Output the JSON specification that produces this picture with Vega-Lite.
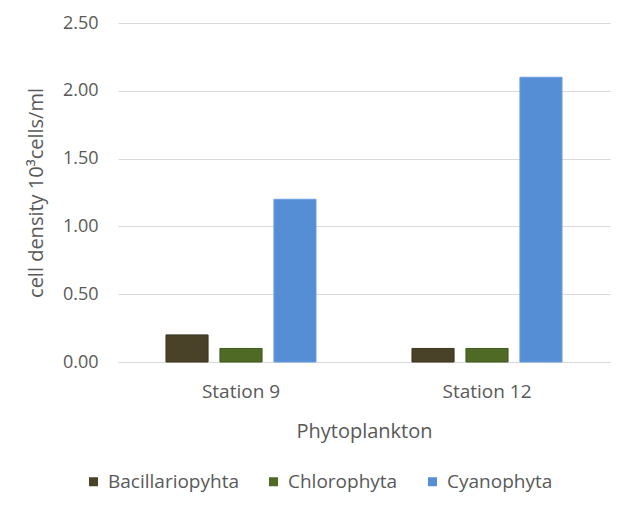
{
  "$schema": "https://vega.github.io/schema/vega-lite/v6.json",
  "width": 492,
  "height": 339,
  "autosize": {"type": "none"},
  "padding": {"left": 118, "top": 23, "right": 14, "bottom": 144},
  "background": "white",
  "data": {
    "values": [
      {"station": "Station 9", "group": "Bacillariopyhta", "density": 0.2},
      {"station": "Station 9", "group": "Chlorophyta", "density": 0.1},
      {"station": "Station 9", "group": "Cyanophyta", "density": 1.2},
      {"station": "Station 12", "group": "Bacillariopyhta", "density": 0.1},
      {"station": "Station 12", "group": "Chlorophyta", "density": 0.1},
      {"station": "Station 12", "group": "Cyanophyta", "density": 2.1}
    ]
  },
  "mark": {"type": "bar", "strokeWidth": 1},
  "encoding": {
    "x": {
      "field": "station",
      "type": "nominal",
      "sort": ["Station 9", "Station 12"],
      "scale": {"paddingInner": 0.39, "paddingOuter": 0.195},
      "axis": {
        "title": "Phytoplankton",
        "labelAngle": 0,
        "ticks": false,
        "domainColor": "#d9d9d9",
        "labelPadding": 20,
        "titlePadding": 20,
        "labelFontSize": 19,
        "titleFontSize": 20,
        "titleFontWeight": "normal"
      }
    },
    "xOffset": {
      "field": "group",
      "type": "nominal",
      "scale": {"paddingInner": 0.22, "paddingOuter": 0}
    },
    "y": {
      "field": "density",
      "type": "quantitative",
      "scale": {"domain": [0, 2.5]},
      "axis": {
        "title": "cell density 10³cells/ml",
        "values": [0, 0.5, 1, 1.5, 2, 2.5],
        "format": ".2f",
        "domain": false,
        "ticks": false,
        "labelPadding": 20,
        "titlePadding": 16,
        "labelFontSize": 18,
        "titleFontSize": 20,
        "titleFontWeight": "normal",
        "gridColor": "#d9d9d9"
      }
    },
    "color": {
      "field": "group",
      "type": "nominal",
      "scale": {
        "domain": ["Bacillariopyhta", "Chlorophyta", "Cyanophyta"],
        "range": ["#4a4228", "#4e6a25", "#558ed5"]
      },
      "legend": {
        "title": null,
        "orient": "none",
        "legendX": -34,
        "legendY": 449,
        "direction": "horizontal",
        "symbolType": "square",
        "symbolSize": 81,
        "symbolStrokeWidth": 0,
        "labelFontSize": 19,
        "labelOffset": 5,
        "columnPadding": 25
      }
    },
    "stroke": {
      "field": "group",
      "type": "nominal",
      "scale": {
        "domain": ["Bacillariopyhta", "Chlorophyta", "Cyanophyta"],
        "range": ["#3a3420", "#3f5a1d", "#6a9fe0"]
      },
      "legend": null
    }
  },
  "config": {
    "font": "Open Sans",
    "view": {"stroke": null},
    "axis": {"labelColor": "#595959", "titleColor": "#595959", "labelFont": "Open Sans", "titleFont": "Open Sans"},
    "legend": {"labelColor": "#595959", "labelFont": "Open Sans"}
  }
}
